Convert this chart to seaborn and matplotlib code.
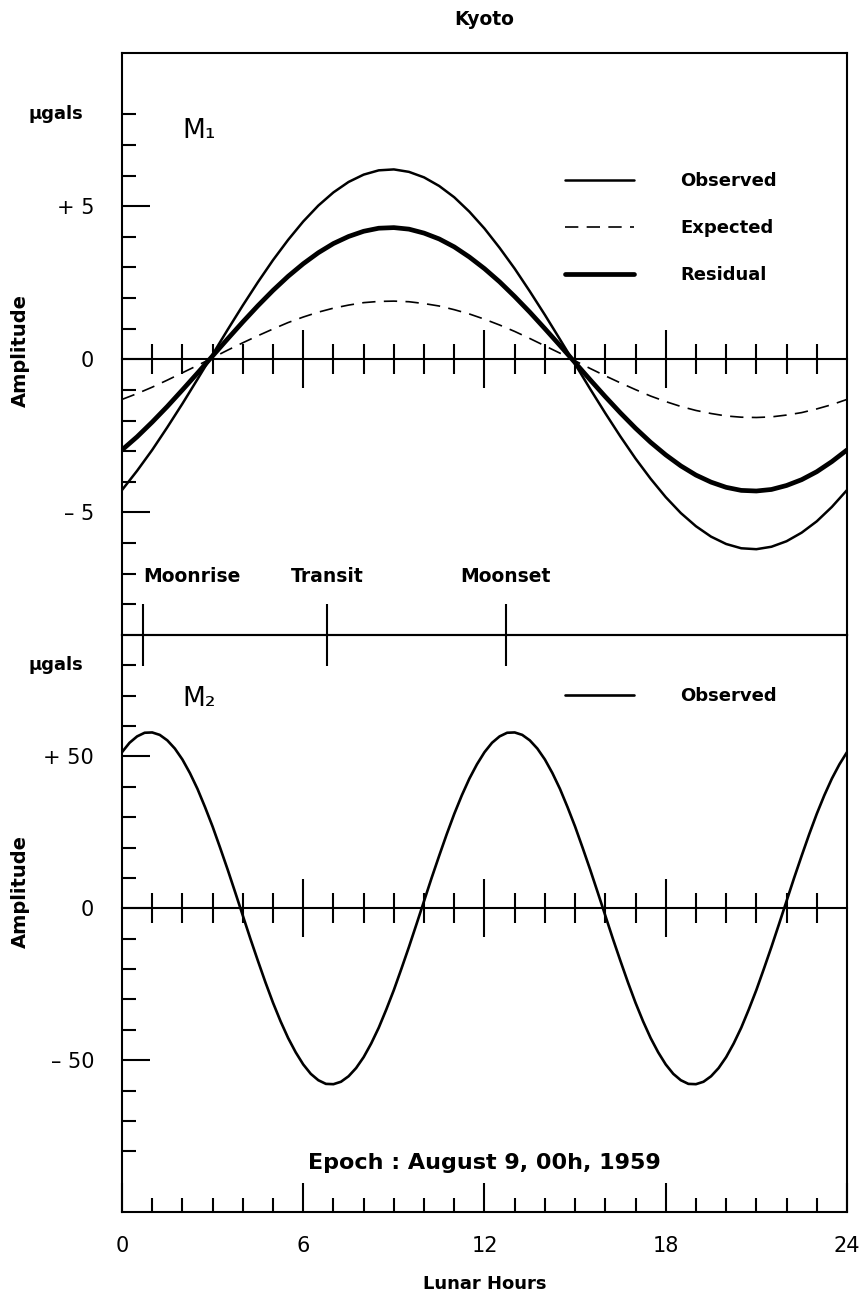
import matplotlib
matplotlib.use("Agg")  # no display
import matplotlib.pyplot as plt
import seaborn as sns

m1_hours = [0, 0.5, 1, 1.5, 2, 2.5, 3, 3.5, 4, 4.5, 5, 5.5,
            6, 6.5, 7, 7.5, 8, 8.5, 9, 9.5, 10, 10.5, 11, 11.5,
            12, 12.5, 13, 13.5, 14, 14.5, 15, 15.5, 16, 16.5, 17, 17.5,
            18, 18.5, 19, 19.5, 20, 20.5, 21, 21.5, 22, 22.5, 23, 23.5, 24]

m1_observed = [-4.27, -3.64, -2.96, -2.22, -1.45, -0.65, 0.16, 0.97, 1.76, 2.52, 3.24, 3.90,
               4.50, 5.02, 5.45, 5.79, 6.03, 6.17, 6.20, 6.12, 5.94, 5.66, 5.29, 4.82,
               4.27, 3.64, 2.96, 2.22, 1.45, 0.65, -0.16, -0.97, -1.76, -2.52, -3.24, -3.90,
               -4.50, -5.02, -5.45, -5.79, -6.03, -6.17, -6.20, -6.12, -5.94, -5.66, -5.29, -4.82,
               -4.27]

m1_expected = [-1.31, -1.12, -0.91, -0.68, -0.44, -0.20, 0.05, 0.30, 0.54, 0.77, 0.99, 1.20,
               1.38, 1.54, 1.67, 1.77, 1.85, 1.89, 1.90, 1.88, 1.82, 1.74, 1.62, 1.48,
               1.31, 1.12, 0.91, 0.68, 0.44, 0.20, -0.05, -0.30, -0.54, -0.77, -0.99, -1.20,
               -1.38, -1.54, -1.67, -1.77, -1.85, -1.89, -1.90, -1.88, -1.82, -1.74, -1.62, -1.48,
               -1.31]

m1_residual = [-2.96, -2.53, -2.05, -1.54, -1.00, -0.45, 0.11, 0.67, 1.22, 1.75, 2.25, 2.71,
               3.12, 3.48, 3.78, 4.01, 4.18, 4.28, 4.30, 4.25, 4.12, 3.93, 3.67, 3.34,
               2.96, 2.53, 2.05, 1.54, 1.00, 0.45, -0.11, -0.67, -1.22, -1.75, -2.25, -2.71,
               -3.12, -3.48, -3.78, -4.01, -4.18, -4.28, -4.30, -4.25, -4.12, -3.93, -3.67, -3.34,
               -2.96]

m2_hours = [0, 0.25, 0.5, 0.75, 1, 1.25, 1.5, 1.75, 2, 2.25, 2.5, 2.75,
            3, 3.25, 3.5, 3.75, 4, 4.25, 4.5, 4.75, 5, 5.25, 5.5, 5.75,
            6, 6.25, 6.5, 6.75, 7, 7.25, 7.5, 7.75, 8, 8.25, 8.5, 8.75,
            9, 9.25, 9.5, 9.75, 10, 10.25, 10.5, 10.75, 11, 11.25, 11.5, 11.75,
            12, 12.25, 12.5, 12.75, 13, 13.25, 13.5, 13.75, 14, 14.25, 14.5, 14.75,
            15, 15.25, 15.5, 15.75, 16, 16.25, 16.5, 16.75, 17, 17.25, 17.5, 17.75,
            18, 18.25, 18.5, 18.75, 19, 19.25, 19.5, 19.75, 20, 20.25, 20.5, 20.75,
            21, 21.25, 21.5, 21.75, 22, 22.25, 22.5, 22.75, 23, 23.25, 23.5, 23.75, 24]

m2_observed = [51.4, 54.5, 56.6, 57.8, 57.9, 57.1, 55.3, 52.6, 49.0, 44.5, 39.3, 33.3,
               26.9, 19.9, 12.7, 5.2, -2.4, -10.0, -17.3, -24.4, -31.1, -37.2, -42.7, -47.4,
               -51.4, -54.5, -56.6, -57.8, -57.9, -57.1, -55.3, -52.6, -49.0, -44.5, -39.3, -33.3,
               -26.9, -19.9, -12.7, -5.2, 2.4, 10.0, 17.3, 24.4, 31.1, 37.2, 42.7, 47.4,
               51.4, 54.5, 56.6, 57.8, 57.9, 57.1, 55.3, 52.6, 49.0, 44.5, 39.3, 33.3,
               26.9, 19.9, 12.7, 5.2, -2.4, -10.0, -17.3, -24.4, -31.1, -37.2, -42.7, -47.4,
               -51.4, -54.5, -56.6, -57.8, -57.9, -57.1, -55.3, -52.6, -49.0, -44.5, -39.3, -33.3,
               -26.9, -19.9, -12.7, -5.2, 2.4, 10.0, 17.3, 24.4, 31.1, 37.2, 42.7, 47.4,
               51.4]

hour_major = [0, 6, 12, 18, 24]
hour_major_labels = ["0", "6", "12", "18", "24"]
hour_minor = [1, 2, 3, 4, 5, 7, 8, 9, 10, 11, 13, 14, 15, 16, 17, 19, 20, 21, 22, 23]
zero_major = [6, 12, 18]

event_hours = [0.7, 6.8, 12.7]
event_labels = ["Moonrise", "Transit", "Moonset"]

m1_yticks = [-5, 0, 5]
m1_ylabels = ["– 5", "0", "+ 5"]
m1_yminor = [-8, -7, -6, -4, -3, -2, -1, 1, 2, 3, 4, 6, 7, 8]
m1_ylim = (-9, 10)

m2_yticks = [-50, 0, 50]
m2_ylabels = ["– 50", "0", "+ 50"]
m2_yminor = [-80, -70, -60, -40, -30, -20, -10, 10, 20, 30, 40, 60, 70, 80]
m2_ylim = (-100, 90)


# ── Style ──────────────────────────────────────────────────────────────────

sns.set_theme(style="white")
plt.rcParams["font.family"] = ["DejaVu Sans"]
plt.rcParams["axes.edgecolor"] = "black"
plt.rcParams["axes.linewidth"] = 1.5
plt.rcParams["text.color"] = "black"
plt.rcParams["axes.labelcolor"] = "black"
plt.rcParams["xtick.color"] = "black"
plt.rcParams["ytick.color"] = "black"

LW = 1.5
fig = plt.figure(figsize=(8.67, 13.03), dpi=100)
ax1 = fig.add_axes([0.1407, 0.5127, 0.8362, 0.4466])
ax2 = fig.add_axes([0.1407, 0.0698, 0.8362, 0.4429])


def style_y(ax, major, labels, minor):
    ax.set_yticks(major, labels)
    ax.set_yticks(minor, minor=True)
    ax.tick_params(axis="y", which="major", direction="in", length=20, width=LW,
                   pad=20, labelsize=15, left=True, right=False)
    ax.tick_params(axis="y", which="minor", direction="in", length=10, width=LW,
                   left=True, right=False)


def zero_axis(ax, ylim):
    """Horizontal zero line with hour ticks crossing it."""
    frac = (0 - ylim[0]) / (ylim[1] - ylim[0])
    z = ax.secondary_xaxis(frac)
    z.set_xticks(zero_major)
    z.set_xticks(hour_minor, minor=True)
    z.tick_params(which="major", direction="inout", length=42, width=LW,
                  labelbottom=False, labeltop=False)
    z.tick_params(which="minor", direction="inout", length=21.5, width=LW)
    for sp in z.spines.values():
        sp.set_linewidth(LW)
    return z


legend_kw = dict(loc="upper left", frameon=False, borderpad=0, borderaxespad=0,
                 handlelength=3.8, handletextpad=2.6,
                 prop=dict(size=13, weight="bold"))


# ── Top panel: M1 ──────────────────────────────────────────────────────────

sns.lineplot(x=m1_hours, y=m1_observed, ax=ax1, color="black", lw=1.8, label="Observed")
sns.lineplot(x=m1_hours, y=m1_expected, ax=ax1, color="black", lw=1.2,
             linestyle=(0, (8, 5)), label="Expected")
sns.lineplot(x=m1_hours, y=m1_residual, ax=ax1, color="black", lw=3.4, label="Residual")

ax1.set_xlim(0, 24)
ax1.set_ylim(*m1_ylim)
ax1.spines["bottom"].set_visible(False)
ax1.tick_params(axis="x", bottom=False, labelbottom=False)

style_y(ax1, m1_yticks, m1_ylabels, m1_yminor)
zero_axis(ax1, m1_ylim)

ax1.legend(bbox_to_anchor=(0.611, 0.795), labelspacing=1.6, **legend_kw)

ax1.set_xlabel("")
ax1.set_ylabel("Amplitude", fontsize=14, fontweight="bold")
ax1.yaxis.set_label_coords(-0.127, 0.488)
ax1.set_title("Kyoto", pad=20, fontsize=13.5, fontweight="bold")

ax1.text(-0.091, 8, "μgals", transform=ax1.get_yaxis_transform(), ha="center",
         va="center", fontsize=13, fontweight="bold", clip_on=False)
ax1.text(0.083, 7.45, "M₁", transform=ax1.get_yaxis_transform(), ha="left",
         va="center", fontsize=19)


# ── Bottom panel: M2 ───────────────────────────────────────────────────────

sns.lineplot(x=m2_hours, y=m2_observed, ax=ax2, color="black", lw=1.9, label="Observed")

ax2.set_xlim(0, 24)
ax2.set_ylim(*m2_ylim)
ax2.set_xticks(hour_major, hour_major_labels)
ax2.set_xticks(hour_minor, minor=True)
ax2.tick_params(axis="x", which="major", direction="in", length=21, width=LW,
                pad=17, labelsize=15, bottom=True, top=False)
ax2.tick_params(axis="x", which="minor", direction="in", length=10, width=LW,
                bottom=True, top=False)

style_y(ax2, m2_yticks, m2_ylabels, m2_yminor)
zero_axis(ax2, m2_ylim)

# moonrise / transit / moonset marks on the divider line
ev = ax2.secondary_xaxis("top")
ev.set_xticks(event_hours, event_labels)
ev.tick_params(direction="inout", length=44, width=LW, pad=13, labelsize=13.5)
for i, lbl in enumerate(ev.get_xticklabels()):
    lbl.set_fontweight("bold")
    if i == 0:
        lbl.set_horizontalalignment("left")
for sp in ev.spines.values():
    sp.set_linewidth(LW)

ax2.legend(bbox_to_anchor=(0.611, 0.909), **legend_kw)

ax2.set_xlabel("Lunar Hours", fontsize=13, fontweight="bold", labelpad=14)
ax2.set_ylabel("Amplitude", fontsize=14, fontweight="bold")
ax2.yaxis.set_label_coords(-0.127, 0.555)

ax2.text(-0.091, 80, "μgals", transform=ax2.get_yaxis_transform(), ha="center",
         va="center", fontsize=13, fontweight="bold", clip_on=False)
ax2.text(0.083, 69, "M₂", transform=ax2.get_yaxis_transform(), ha="left",
         va="center", fontsize=19)
ax2.text(0.5, 0.085, "Epoch : August 9, 00h, 1959", transform=ax2.transAxes,
         ha="center", va="center", fontsize=16, fontweight="bold")

fig.savefig("out.png", dpi=100)
plt.close(fig)
